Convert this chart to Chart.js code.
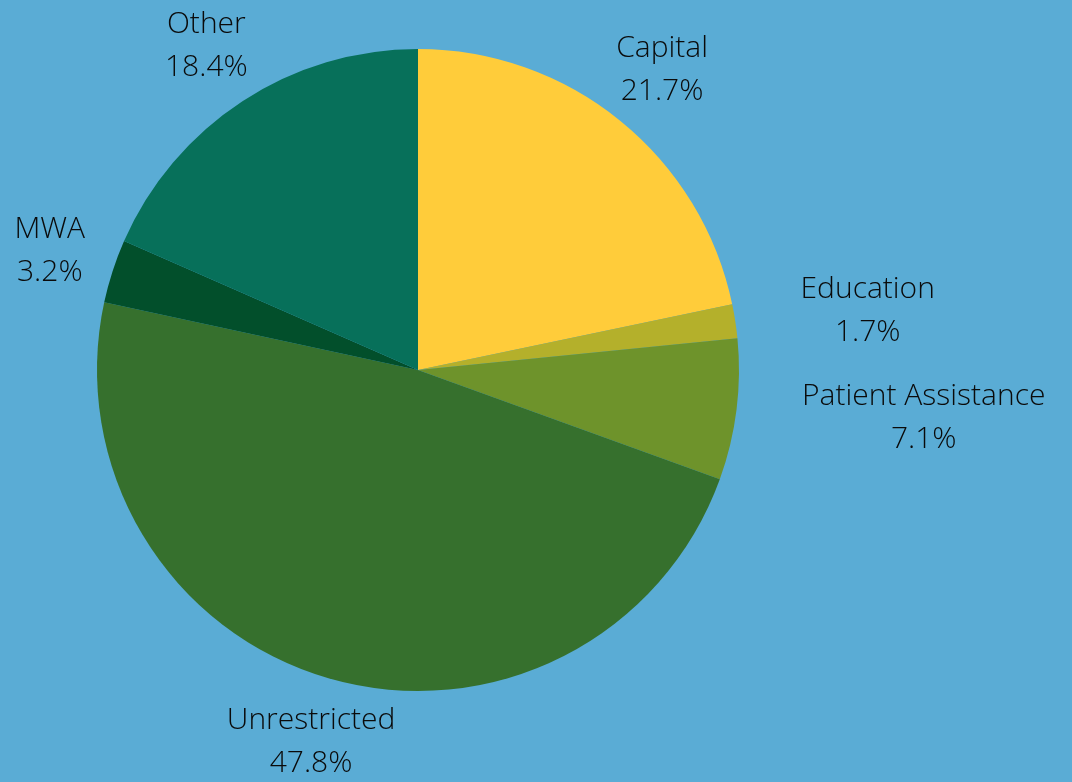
<!DOCTYPE html>
<html>
<head>
<meta charset="utf-8">
<script src="https://cdn.jsdelivr.net/npm/chart.js@4/dist/chart.umd.min.js"></script>
<style>
  html, body { margin: 0; padding: 0; background: #5aacd5; }
  #wrap { width: 1072px; height: 782px; }
</style>
</head>
<body>
<div id="wrap"><canvas id="pieChart"></canvas></div>
<script>
// data
const categories = ['Capital', 'Education', 'Patient Assistance', 'Unrestricted', 'MWA', 'Other'];
const shares = [21.7, 1.7, 7.1, 47.8, 3.2, 18.4];
const sliceColors = ['#ffcc3a', '#b4b02b', '#6e932b', '#36702d', '#024f2b', '#07705a'];

// labels outside the slices: name on one line, percent below
const outsideLabels = {
    id: 'outsideLabels',
    afterDatasetsDraw(chart) {
        const ctx = chart.ctx;
        const arcs = chart.getDatasetMeta(0).data;
        ctx.save();
        ctx.font = '300 30px "Open Sans"';
        ctx.fillStyle = '#0a0a0a';
        ctx.textAlign = 'center';
        ctx.textBaseline = 'middle';
        const lineH = 43;
        arcs.forEach(function(arc, i) {
            const mid = (arc.startAngle + arc.endAngle) / 2;
            const r = arc.outerRadius + 66;
            let x = arc.x + Math.cos(mid) * r;
            const y = arc.y + Math.sin(mid) * r;
            const lines = [categories[i], shares[i].toFixed(1) + '%'];
            // right-hand labels near the horizontal start at the anchor point
            if (Math.cos(mid) > 0.97) {
                const w = Math.max.apply(null, lines.map(function(t) { return ctx.measureText(t).width; }));
                x += w / 2;
            }
            ctx.fillText(lines[0], x, y - lineH / 2);
            ctx.fillText(lines[1], x, y + lineH / 2);
        });
        ctx.restore();
    }
};

const ctx = document.getElementById('pieChart').getContext('2d');
new Chart(ctx, {
    type: 'pie',
    data: {
        labels: categories,
        datasets: [{
            data: shares,
            backgroundColor: sliceColors,
            borderWidth: 0
        }]
    },
    options: {
        responsive: true,
        maintainAspectRatio: false,
        animation: false,
        layout: {
            padding: { left: 97, right: 333, top: 49, bottom: 91 }
        },
        plugins: {
            legend: { display: false },
            tooltip: { enabled: false }
        }
    },
    plugins: [outsideLabels]
});
</script>
</body>
</html>
